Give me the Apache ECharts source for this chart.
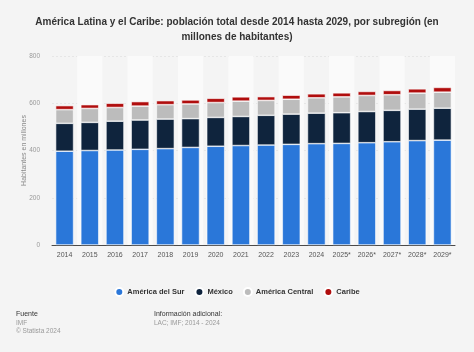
<!DOCTYPE html>
<html>
<head>
<meta charset="utf-8">
<script src="https://cdn.jsdelivr.net/npm/echarts@6/dist/echarts.min.js"></script>
<style>
  html, body { margin: 0; padding: 0; background: #f4f4f4; }
  #chart { width: 474px; height: 352px; }
</style>
</head>
<body>
<div id="chart"></div>
<script>
// años (los marcados con * son previsiones)
const years = ["2014", "2015", "2016", "2017", "2018", "2019", "2020", "2021",
  "2022", "2023", "2024", "2025*", "2026*", "2027*", "2028*", "2029*"];
// millones de habitantes por subregión
const americaDelSur = [397, 400, 402, 405, 408, 413, 418, 421, 423, 426, 429, 430, 433, 437, 442, 444];
const mexico = [118, 119, 122, 124, 125, 122, 122, 123, 126, 128, 129, 130, 132, 133, 133, 135];
const americaCentral = [58, 59, 58, 59, 61, 62, 63, 65, 63, 63, 65, 67, 68, 66, 68, 68];
const caribe = [17, 16, 18, 19, 17, 17, 18, 18, 16, 17, 17, 17, 17, 18, 18, 20];
const yTicks = [0, 200, 400, 600, 800];

const chart = echarts.init(document.getElementById("chart"));

function serie(name, color, data) {
  return {
    name: name,
    type: "bar",
    stack: "total",
    barWidth: 18,
    itemStyle: { color: color, borderColor: "#ffffff", borderWidth: 0.6 },
    data: data,
  };
}

chart.setOption({
  backgroundColor: "#f4f4f4",
  textStyle: { fontFamily: "Liberation Sans, Arial, sans-serif" },
  title: {
    text: "América Latina y el Caribe: población total desde 2014 hasta 2029, por subregión (en\nmillones de habitantes)",
    left: "center",
    top: 10,
    textStyle: { fontSize: 10, fontWeight: "bold", color: "#333", lineHeight: 15 },
  },
  grid: { left: 52, right: 19, top: 56, bottom: 107 },
  legend: {
    top: 282,
    left: "center",
    icon: "circle",
    itemWidth: 8,
    itemHeight: 8,
    itemGap: 10,
    textStyle: { fontSize: 7.5, fontWeight: "bold", color: "#333", padding: [0, 0, 0, -1] },
  },
  xAxis: {
    type: "category",
    data: years,
    axisLine: { lineStyle: { color: "#4a4a4a", width: 1 } },
    axisTick: { show: false },
    axisLabel: { interval: 0, fontSize: 7, color: "#555", margin: 7 },
    splitArea: { show: true, interval: 0, areaStyle: { color: ["rgba(0,0,0,0)", "#fafafa"] } },
  },
  yAxis: {
    type: "value",
    min: yTicks[0],
    max: yTicks[yTicks.length - 1],
    interval: 200,
    name: "Habitantes en millones",
    nameLocation: "middle",
    nameGap: 24,
    nameMoveOverlap: false,
    nameTextStyle: { fontSize: 7, color: "#888" },
    axisLine: { show: false },
    axisTick: { show: false },
    axisLabel: { fontSize: 6.5, color: "#999", margin: 12 },
    splitLine: { lineStyle: { color: "#e2e2e2", type: [2, 2], width: 0.8 } },
  },
  series: [
    serie("América del Sur", "#2a77d9", americaDelSur),
    serie("México", "#0f243d", mexico),
    serie("América Central", "#bcbcbc", americaCentral),
    serie("Caribe", "#b00d0d", caribe),
  ],
  graphic: [
    { type: "text", left: 16, top: 311, style: { text: "Fuente", fontSize: 7, fill: "#333", fontFamily: "Liberation Sans" } },
    { type: "text", left: 16, top: 320, style: { text: "IMF", fontSize: 6.5, fill: "#999", fontFamily: "Liberation Sans" } },
    { type: "text", left: 16, top: 328, style: { text: "© Statista 2024", fontSize: 6.5, fill: "#999", fontFamily: "Liberation Sans" } },
    { type: "text", left: 154, top: 311, style: { text: "Información adicional:", fontSize: 7, fill: "#333", fontFamily: "Liberation Sans" } },
    { type: "text", left: 154, top: 320, style: { text: "LAC; IMF; 2014 - 2024", fontSize: 6.5, fill: "#999", fontFamily: "Liberation Sans" } },
  ],
});
</script>
</body>
</html>
